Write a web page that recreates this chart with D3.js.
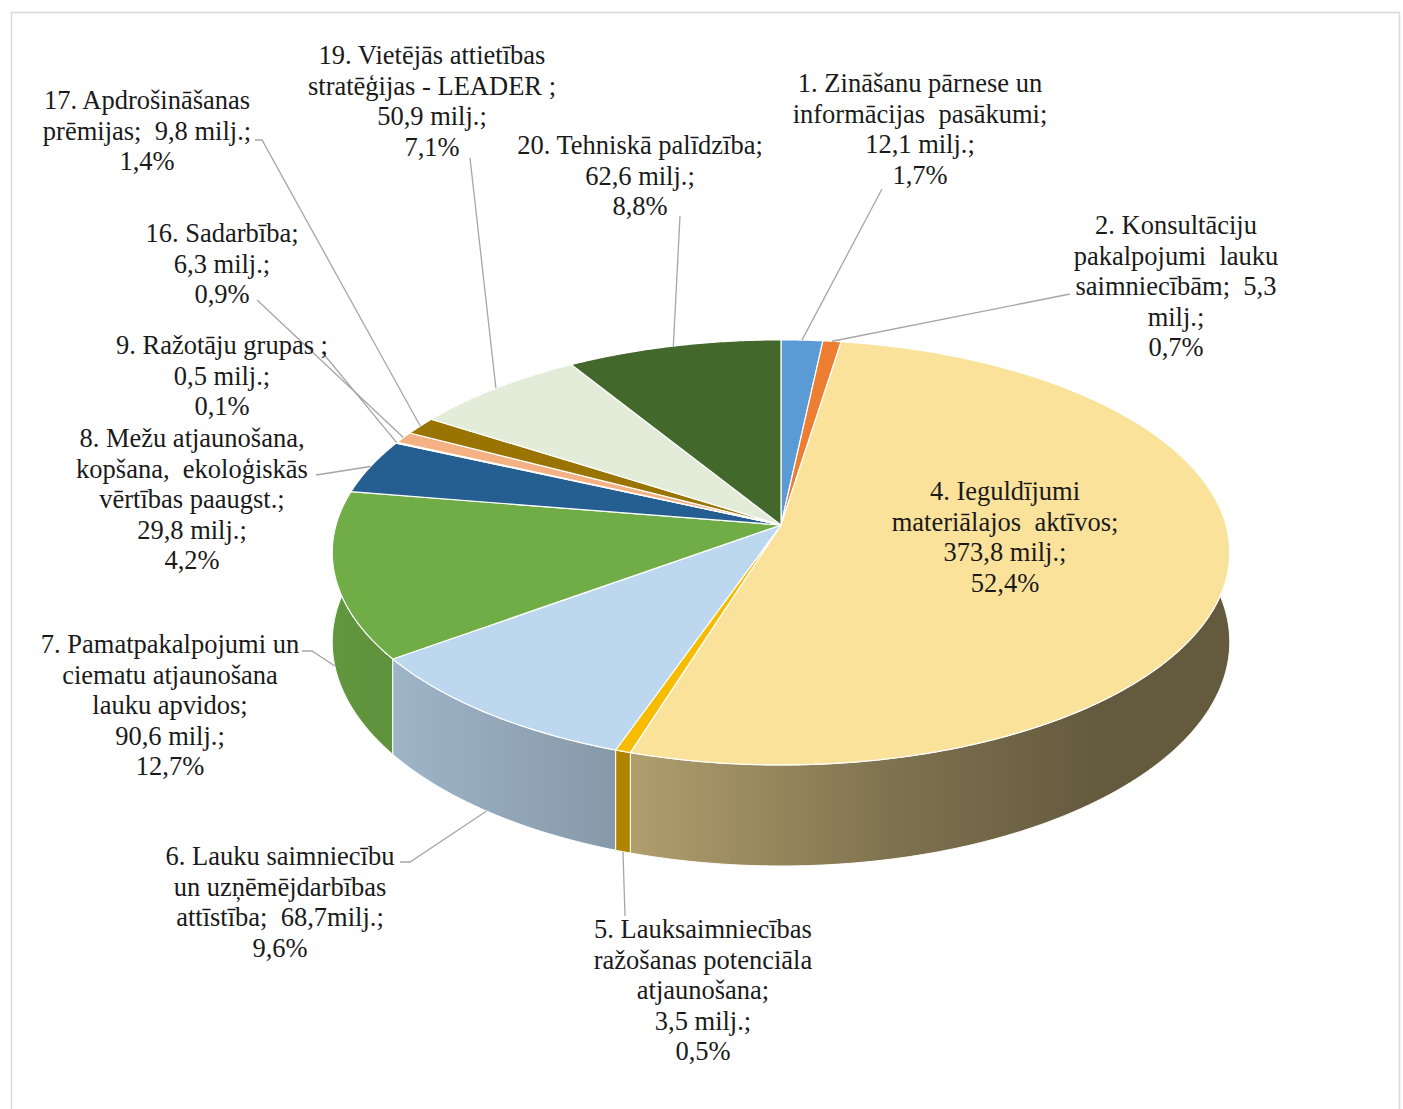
<!DOCTYPE html>
<html>
<head>
<meta charset="utf-8">
<script src="https://cdn.jsdelivr.net/npm/d3@7"></script>
<style>
  body { margin: 0; background: #fff; }
  svg { display: block; }
  text { font-family: "Liberation Serif", "Times New Roman", serif; }
</style>
</head>
<body>
<div id="chart"></div>
<script>
// measures, clockwise from 12 o'clock
const measures = ['1', '2', '4', '5', '6', '7', '8', '9', '16', '17', '19', '20']
const values = [12.1, 5.3, 373.8, 3.5, 68.7, 90.6, 29.8, 0.5, 6.3, 9.8, 50.9, 62.6]
const colors = ['#5b9bd5', '#ed7d31', '#fae29b', '#f7bb00', '#bdd7ee', '#70ad47',
    '#255e91', '#d6d6d6', '#f4b183', '#9a7400', '#e2ecd9', '#43682b']
const labelLines = [
    ['1. Zināšanu pārnese un', 'informācijas  pasākumi;', '12,1 milj.;', '1,7%'],
    ['2. Konsultāciju', 'pakalpojumi  lauku', 'saimniecībām;  5,3', 'milj.;', '0,7%'],
    ['4. Ieguldījumi', 'materiālajos  aktīvos;', '373,8 milj.;', '52,4%'],
    ['5. Lauksaimniecības', 'ražošanas potenciāla', 'atjaunošana;', '3,5 milj.;', '0,5%'],
    ['6. Lauku saimniecību', 'un uzņēmējdarbības', 'attīstība;  68,7milj.;', '9,6%'],
    ['7. Pamatpakalpojumi un', 'ciematu atjaunošana', 'lauku apvidos;', '90,6 milj.;', '12,7%'],
    ['8. Mežu atjaunošana,', 'kopšana,  ekoloģiskās', 'vērtības paaugst.;', '29,8 milj.;', '4,2%'],
    ['9. Ražotāju grupas ;', '0,5 milj.;', '0,1%'],
    ['16. Sadarbība;', '6,3 milj.;', '0,9%'],
    ['17. Apdrošināšanas', 'prēmijas;  9,8 milj.;', '1,4%'],
    ['19. Vietējās attietības', 'stratēģijas - LEADER ;', '50,9 milj.;', '7,1%'],
    ['20. Tehniskā palīdzība;', '62,6 milj.;', '8,8%']
]

// label placement (centre x, first baseline, leader end points)
const labelLayout = [
    { x: 920, y: 92, end: [[882, 189]] },
    { x: 1176, y: 234, end: [[1070, 294]] },
    { x: 1005, y: 500, end: null },
    { x: 703, y: 938, end: [[625, 916]] },
    { x: 280, y: 865, end: [[410, 862], [400, 862]] },
    { x: 170, y: 653, end: [[312, 651], [302, 651]] },
    { x: 192, y: 447, end: [[316, 475]] },
    { x: 222, y: 354, end: [[322, 352]] },
    { x: 222, y: 242, end: [[257, 300]] },
    { x: 147, y: 109, end: [[262, 140], [255, 140]] },
    { x: 432, y: 64, end: [[470, 158]] },
    { x: 640, y: 154, end: [[680, 216]] }
]

const width = 1403
const height = 1109
const lineGap = 30.6

// pie geometry (perspective ellipse)
const cx = 781, cy = 525
const rx = 445, ry = 209
const persp = 0.129
const depth = 88

const project = (a, z = 0) => {
    const u = Math.sin(a), v = -Math.cos(a)
    const s = 1 / (1 - persp * v)
    return [cx + rx * u * s, cy + ry * v * s + z * depth * s]
}

const arcPoints = (a0, a1, z) => {
    const n = Math.max(2, Math.ceil((a1 - a0) / 0.008))
    return d3.range(n + 1).map(i => project(a0 + (a1 - a0) * i / n, z))
}

const svg = d3.create('svg')
    .attr('width', width)
    .attr('height', height)
    .attr('viewBox', [0, 0, width, height])

svg.append('rect')
    .attr('x', 11.5).attr('y', 12.5)
    .attr('width', 1388).attr('height', 1120)
    .attr('fill', '#fff')
    .attr('stroke', '#d9d9d9')
    .attr('stroke-width', 1.5)

const pie = d3.pie().sort(null).value(d => d)
const slices = pie(values).map((d, i) => ({ ...d, i, mid: (d.startAngle + d.endAngle) / 2 }))

// side shading: darker toward the right
const shade = d3.scaleLinear()
    .domain([335, 620, 900, 1100, 1240])
    .range([0.87, 0.71, 0.5, 0.4, 0.4])
    .clamp(true)

const defs = svg.append('defs')
slices.forEach(d => {
    const base = d3.rgb(colors[d.i])
    const grad = defs.append('linearGradient')
        .attr('id', `side-${d.i}`)
        .attr('gradientUnits', 'userSpaceOnUse')
        .attr('x1', 335).attr('x2', 1240)
        .attr('y1', 0).attr('y2', 0)
    shade.domain().forEach(x => {
        const f = shade(x)
        grad.append('stop')
            .attr('offset', (x - 335) / (1240 - 335))
            .attr('stop-color', d3.rgb(base.r * f, base.g * f, base.b * f))
    })
})

const line = d3.line()

/* outer walls, back to front */
const sides = svg.append('g')
sides.selectAll('path')
    .data(slices.slice().sort((a, b) => -Math.cos(a.mid) - -Math.cos(b.mid)))
    .enter()
    .append('path')
    .attr('d', d => {
        const top = arcPoints(d.startAngle, d.endAngle, 0)
        const bottom = arcPoints(d.startAngle, d.endAngle, 1).reverse()
        return line(top.concat(bottom)) + 'Z'
    })
    .attr('fill', d => `url(#side-${d.i})`)
    .attr('stroke', '#fff')
    .attr('stroke-width', 1)
    .attr('stroke-linejoin', 'round')

/* top faces */
const tops = svg.append('g')
tops.selectAll('path')
    .data(slices)
    .enter()
    .append('path')
    .attr('d', d => line([[cx, cy]].concat(arcPoints(d.startAngle, d.endAngle, 0))) + 'Z')
    .attr('fill', d => colors[d.i])
    .attr('stroke', '#fff')
    .attr('stroke-width', 1.2)
    .attr('stroke-linejoin', 'round')

/* leader lines: front slices anchor on the wall bottom, back ones on the rim */
const leaders = svg.append('g')
leaders.selectAll('path')
    .data(slices.filter(d => labelLayout[d.i].end))
    .enter()
    .append('path')
    .attr('d', d => {
        const front = -Math.cos(d.mid) > 0
        const anchor = project(d.mid, front ? 1 : 0)
        return line([anchor].concat(labelLayout[d.i].end))
    })
    .attr('fill', 'none')
    .attr('stroke', '#a6a6a6')
    .attr('stroke-width', 1.3)

/* labels */
const labels = svg.append('g')
    .attr('font-size', 26.5)
    .attr('fill', '#1a1a1a')
    .attr('text-anchor', 'middle')

labels.selectAll('text')
    .data(slices)
    .enter()
    .append('text')
    .style('white-space', 'pre')
    .attr('x', d => labelLayout[d.i].x)
    .attr('y', d => labelLayout[d.i].y)
    .selectAll('tspan')
    .data(d => labelLines[d.i].map(t => ({ t, x: labelLayout[d.i].x })))
    .enter()
    .append('tspan')
    .attr('x', d => d.x)
    .attr('dy', (d, j) => j === 0 ? 0 : lineGap)
    .text(d => d.t)

document.getElementById('chart').appendChild(svg.node())
</script>
</body>
</html>
